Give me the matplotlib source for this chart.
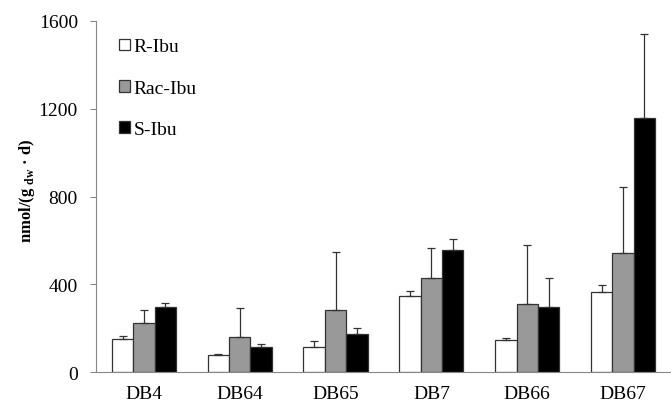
import numpy as np
import matplotlib
matplotlib.use("Agg")
import matplotlib.pyplot as plt

plt.rcParams['font.family'] = ['Liberation Serif', 'DejaVu Serif']
plt.rcParams['mathtext.fontset'] = 'custom'
plt.rcParams['mathtext.rm'] = 'Liberation Serif'
plt.rcParams['mathtext.bf'] = 'Liberation Serif:bold'

sites = ["DB4", "DB64", "DB65", "DB7", "DB66", "DB67"]
series = ["R-Ibu", "Rac-Ibu", "S-Ibu"]

r_ibu = [153, 77, 115, 345, 146, 366]
rac_ibu = [222, 161, 283, 427, 310, 541]
s_ibu = [295, 115, 173, 558, 295, 1160]

r_err = [13, 5, 25, 24, 11, 31]
rac_err = [62, 129, 265, 140, 270, 304]
s_err = [20, 11, 26, 50, 133, 380]

colors = ["white", "#999999", "black"]

fig = plt.figure(figsize=(6.71, 4.06), dpi=100)
ax = fig.add_axes([0.143, 0.081, 0.857, 0.865])

x = np.arange(len(sites))
w = 0.223
for i, (vals, errs, c, name) in enumerate(zip([r_ibu, rac_ibu, s_ibu], [r_err, rac_err, s_err], colors, series)):
    ax.bar(x + (i - 1) * w, vals, w, color=c, edgecolor="#333333", linewidth=0.9, label=name,
           yerr=[np.zeros(len(errs)), errs], error_kw=dict(ecolor="#333333", elinewidth=0.9, capsize=3, capthick=0.9))

ax.set_xlim(-0.5, 5.5)
ax.set_ylim(0, 1600)
ax.set_yticks([0, 400, 800, 1200, 1600])
ax.set_xticks(x)
ax.set_xticklabels(sites)
ax.tick_params(axis='x', length=0, labelsize=14, pad=9)
ax.tick_params(axis='y', direction='out', length=4, color='#888888', labelsize=14, pad=9)
for s in ["top", "right"]:
    ax.spines[s].set_visible(False)
ax.spines["left"].set_color("#888888")
ax.spines["bottom"].set_color("#888888")

ax.set_ylabel(r"nmol/(g $_{\mathregular{dw}}$ · d)", fontsize=12, fontweight="bold")
ax.yaxis.set_label_coords(-0.103, 0.52)

ax.legend(loc="upper left", bbox_to_anchor=(0.01, 1.0), frameon=False, fontsize=14,
          handlelength=0.55, handleheight=0.55, handletextpad=0.2, labelspacing=1.25)

fig.savefig("out.png", dpi=100)
